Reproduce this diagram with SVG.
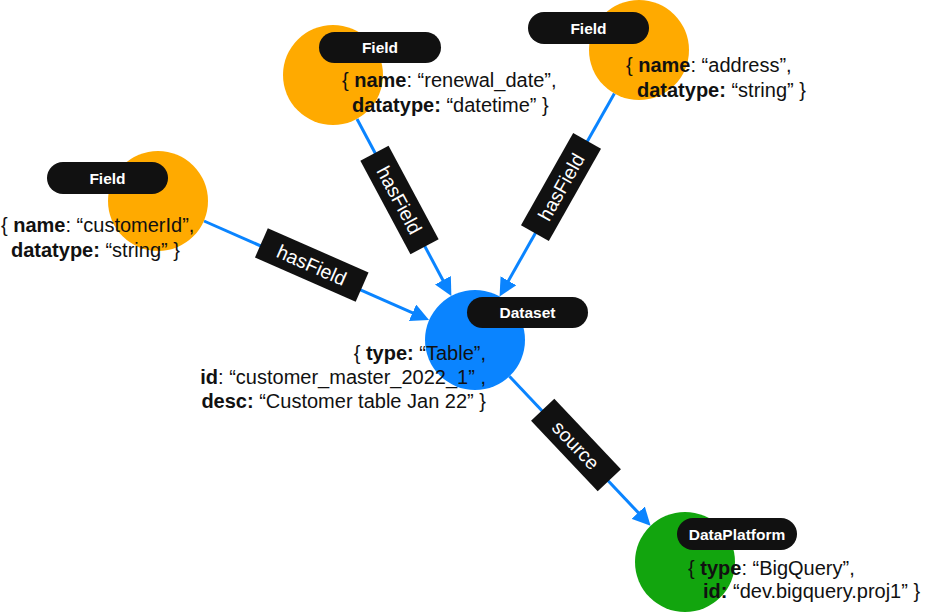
<svg xmlns="http://www.w3.org/2000/svg" width="925" height="613" viewBox="0 0 925 613">
<defs>
<style>
.bg{fill:#ffffff}
.orange{fill:#FFAA00}
.blue{fill:#0A84FF}
.green{fill:#12A50E}
.pill{fill:#111111}
.pilltxt{font-family:"Liberation Sans",Arial,sans-serif;font-size:15.5px;font-weight:bold;fill:#ffffff;text-anchor:middle}
.props{font-family:"Liberation Sans",Arial,sans-serif;font-size:20px;fill:#111111}
.b{font-weight:bold}
.edge{stroke:#0A84FF;stroke-width:3;fill:none}
.lbox{fill:#111111}
.ltxt{font-family:"Liberation Sans",Arial,sans-serif;font-size:19.5px;fill:#ffffff;text-anchor:middle}
</style>
<marker id="arrow" markerUnits="userSpaceOnUse" markerWidth="18" markerHeight="18" viewBox="0 0 18 18" refX="10" refY="9" orient="auto">
<path d="M0,0 L18,9 L0,18 Z" fill="#0A84FF"/>
</marker>
</defs>
<rect class="bg" x="0" y="0" width="925" height="613"/>

<g id="connectors">
<g id="edge-customerId">
<line class="edge" x1="204" y1="221" x2="421.7" y2="316.8" marker-end="url(#arrow)"/>
<g transform="translate(311.75,265) rotate(23.7)">
<rect class="lbox" x="-55" y="-16" width="110" height="32"/>
<text class="ltxt" x="0" y="7">hasField</text>
</g>
</g>
<g id="edge-renewal">
<line class="edge" x1="357" y1="119" x2="447.6" y2="289" marker-end="url(#arrow)"/>
<g transform="translate(399.5,200) rotate(61.8)">
<rect class="lbox" x="-53" y="-16" width="106" height="32"/>
<text class="ltxt" x="0" y="7">hasField</text>
</g>
</g>
<g id="edge-address">
<line class="edge" x1="614.4" y1="93.5" x2="503.5" y2="289.5" marker-end="url(#arrow)"/>
<g transform="translate(561,187) rotate(-60.5)">
<rect class="lbox" x="-53" y="-16" width="106" height="32"/>
<text class="ltxt" x="0" y="7">hasField</text>
</g>
</g>
<g id="edge-source">
<line class="edge" x1="509.4" y1="376.3" x2="645.1" y2="519.9" marker-end="url(#arrow)"/>
<g transform="translate(576,445) rotate(46.6)">
<rect class="lbox" x="-48.5" y="-16" width="97" height="32"/>
<text class="ltxt" x="0" y="7">source</text>
</g>
</g>
</g>

<g id="node-field-renewal">
<circle class="orange" cx="333" cy="75" r="50"/>
<rect class="pill" x="319" y="32" width="122" height="31" rx="15.5"/>
<text class="pilltxt" x="380" y="53">Field</text>
<text class="props" x="342" y="87">{ <tspan class="b">name</tspan>: “renewal_date”,</text>
<text class="props" x="352" y="112"><tspan class="b">datatype:</tspan> “datetime” }</text>
</g>

<g id="node-field-address">
<circle class="orange" cx="639" cy="50" r="50"/>
<rect class="pill" x="528" y="12" width="121" height="32" rx="16"/>
<text class="pilltxt" x="588.5" y="33.5">Field</text>
<text class="props" x="626" y="72">{ <tspan class="b">name</tspan>: “address”,</text>
<text class="props" x="637" y="97"><tspan class="b">datatype:</tspan> “string” }</text>
</g>

<g id="node-field-customerId">
<circle class="orange" cx="158" cy="201" r="50"/>
<rect class="pill" x="47" y="162" width="121" height="32" rx="16"/>
<text class="pilltxt" x="107.5" y="183.5">Field</text>
<text class="props" x="1" y="232">{ <tspan class="b">name</tspan>: “customerId”,</text>
<text class="props" x="11" y="257"><tspan class="b">datatype:</tspan> “string” }</text>
</g>

<g id="node-dataset">
<circle class="blue" cx="475" cy="340" r="50"/>
<rect class="pill" x="467" y="297" width="121" height="31" rx="15.5"/>
<text class="pilltxt" x="527.5" y="318">Dataset</text>
<text class="props" x="486" y="360" text-anchor="end">{ <tspan class="b">type:</tspan> “Table”,</text>
<text class="props" x="486" y="384" text-anchor="end"><tspan class="b">id</tspan>: “customer_master_2022_1” ,</text>
<text class="props" x="486" y="408" text-anchor="end"><tspan class="b">desc:</tspan> “Customer table Jan 22” }</text>
</g>

<g id="node-dataplatform">
<circle class="green" cx="685" cy="562" r="50"/>
<rect class="pill" x="677" y="518" width="120" height="32" rx="16"/>
<text class="pilltxt" x="737" y="539.5">DataPlatform</text>
<text class="props" x="688" y="575">{ <tspan class="b">type</tspan>: “BigQuery”,</text>
<text class="props" x="703" y="598"><tspan class="b">id:</tspan> “dev.bigquery.proj1” }</text>
</g>
</svg>
